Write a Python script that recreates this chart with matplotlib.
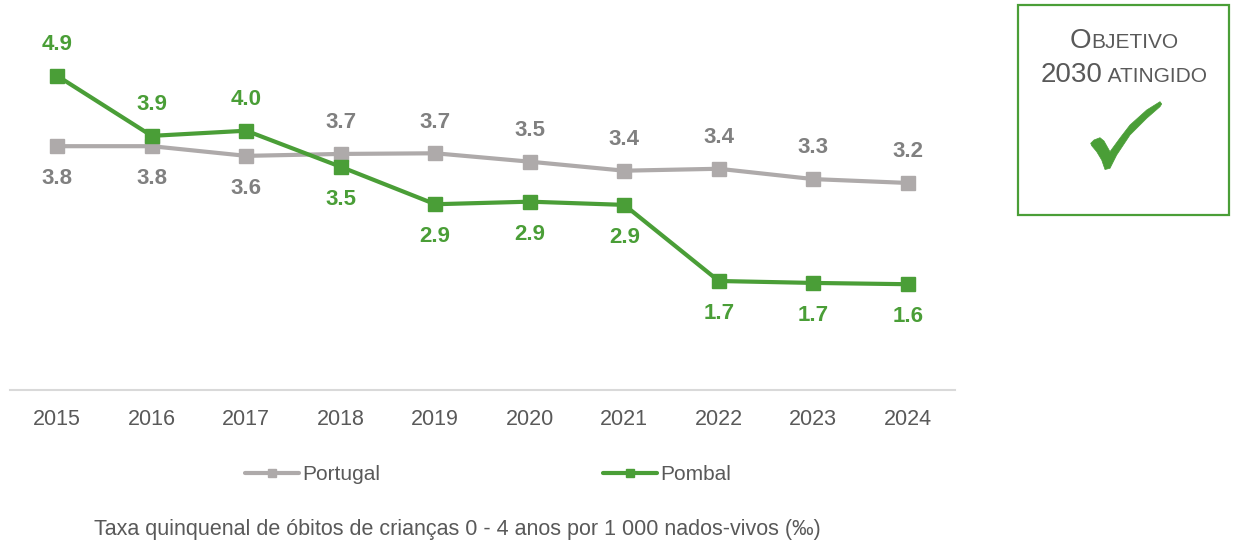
import matplotlib
matplotlib.use("Agg")
import matplotlib.pyplot as plt
from matplotlib.patches import Polygon, Rectangle

plt.rcParams['font.family'] = ['Liberation Sans', 'DejaVu Sans']

# dados
anos = ['2015', '2016', '2017', '2018', '2019', '2020', '2021', '2022', '2023', '2024']
portugal = [3.78, 3.78, 3.63, 3.66, 3.67, 3.54, 3.40, 3.43, 3.27, 3.21]
pombal = [4.87, 3.94, 4.02, 3.46, 2.88, 2.92, 2.87, 1.69, 1.66, 1.64]
# posicao das etiquetas (+1 acima, -1 abaixo)
pos_portugal = [-1, -1, -1, 1, 1, 1, 1, 1, 1, 1]
pos_pombal = [1, 1, 1, -1, -1, -1, -1, -1, -1, -1]
legenda = ['Portugal', 'Pombal']
nota = 'Taxa quinquenal de óbitos de crianças 0 - 4 anos por 1 000 nados-vivos (‰)'

# cores
verde = '#4A9E37'
cinza = '#AEAAAA'
cinza_txt = '#808080'
texto = '#595959'

W, H = 1235, 547
fig = plt.figure(figsize=(W / 100, H / 100), dpi=100)

# eixo principal (coordenadas em pixeis)
ax = fig.add_axes([10 / W, 1 - 390 / H, 945 / W, 387 / H])
x = list(range(len(anos)))
ax.plot(x, portugal, color=cinza, lw=3, marker='s', ms=10, label=legenda[0],
        solid_joinstyle='round', solid_capstyle='round')
ax.plot(x, pombal, color=verde, lw=3, marker='s', ms=10, label=legenda[1],
        solid_joinstyle='round', solid_capstyle='round')

for i in x:
    d = pos_portugal[i]
    ax.annotate('%.1f' % portugal[i], (i, portugal[i]), xytext=(0, 22.5 if d > 0 else -23.5),
                textcoords='offset points', ha='center', va='center',
                fontsize=16, fontweight='bold', color=cinza_txt)
    d = pos_pombal[i]
    ax.annotate('%.1f' % pombal[i], (i, pombal[i]), xytext=(0, 22.5 if d > 0 else -23.5),
                textcoords='offset points', ha='center', va='center',
                fontsize=16, fontweight='bold', color=verde)

ax.set_xlim(-0.5, len(anos) - 0.5)
ax.set_ylim(0, 6)
ax.set_xticks(x)
ax.set_xticklabels(anos)
ax.set_yticks([])
for s in ['left', 'right', 'top']:
    ax.spines[s].set_visible(False)
ax.spines['bottom'].set_color('#D9D9D9')
ax.spines['bottom'].set_linewidth(1.5)
ax.tick_params(axis='x', length=0, pad=14, labelsize=15.5, labelcolor=texto)
ax.patch.set_alpha(0)

leg = fig.legend(loc='center left', bbox_to_anchor=(245 / W, 1 - 475 / H), ncol=2,
                 frameon=False, fontsize=15, handlelength=2.6, handletextpad=0.15,
                 columnspacing=10.7, markerscale=0.55, borderpad=0, borderaxespad=0)
for t in leg.get_texts():
    t.set_color(texto)

fig.text(457 / W, 1 - 530 / H, nota, ha='center', va='center', fontsize=15.5, color=texto)

# caixa objetivo
fig.patches.append(Rectangle((1018 / W, 1 - 215 / H), 211 / W, 210 / H, transform=fig.transFigure,
                             fill=False, edgecolor=verde, lw=1.6))

def versalete(cx, y, partes):
    txts = [fig.text(0, 1 - y / H, s, fontsize=f, va='baseline', ha='left', color=texto)
            for s, f in partes]
    fig.canvas.draw()
    r = fig.canvas.get_renderer()
    larg = [t.get_window_extent(r).width for t in txts]
    x0 = cx - sum(larg) / 2
    for t, w in zip(txts, larg):
        t.set_x(x0 / W)
        x0 += w

versalete(1124, 48, [('O', 20), ('BJETIVO', 15)])
versalete(1124, 82, [('2030', 20), (' ATINGIDO', 15)])

check = [(1090.7, 143.3), (1094, 140), (1100, 137.7), (1104, 141), (1110, 151.7),
         (1120, 138), (1130, 125), (1146.7, 110), (1160, 101.7), (1161.7, 104),
         (1160, 106.7), (1146.7, 118.3), (1130, 135), (1116.7, 155), (1110, 168.3),
         (1105, 169.5), (1101.7, 160), (1096.7, 151.7), (1091.7, 145.7)]
fig.patches.append(Polygon([(px / W, 1 - py / H) for px, py in check], closed=True,
                           transform=fig.transFigure, facecolor=verde, edgecolor=verde,
                           lw=0.5, joinstyle='round'))

fig.savefig('out.png', dpi=100)
